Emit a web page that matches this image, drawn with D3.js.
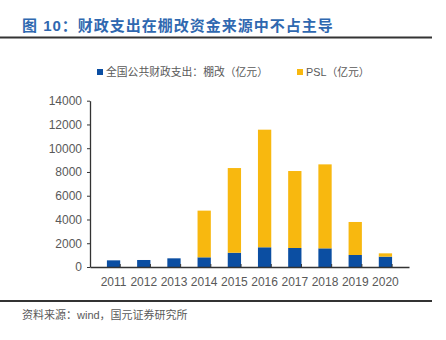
<!DOCTYPE html>
<html lang="zh">
<head>
  <meta charset="utf-8">
  <title>图 10</title>
  <script src="https://d3js.org/d3.v7.min.js"></script>
  <style>
    body { margin: 0; background: #fff; }
    text { font-family: "Liberation Sans", Arial, "Noto Sans CJK SC", sans-serif; }
  </style>
</head>
<body>
<script>
  // values (亿元)
  var years = ["2011","2012","2013","2014","2015","2016","2017","2018","2019","2020"];
  var fiscal = [560, 590, 730, 815, 1200, 1660, 1600, 1570, 1010, 870];
  var psl = [0, 0, 0, 3930, 7130, 9900, 6480, 7070, 2780, 280];
  var yTicks = [0, 2000, 4000, 6000, 8000, 10000, 12000, 14000];

  var w = 446, h = 340;
  var cn = "'Noto Sans CJK SC', sans-serif";

  var svg = d3.select("body").append("svg")
    .attr("width", w)
    .attr("height", h);

  // title + rules
  svg.append("text")
    .attr("x", 22).attr("y", 31)
    .attr("font-family", cn)
    .attr("font-size", 15)
    .attr("font-weight", "bold")
    .attr("fill", "#2f68b0")
    .attr("letter-spacing", 1)
    .text("图 10：财政支出在棚改资金来源中不占主导");

  svg.append("line")
    .attr("x1", 0).attr("x2", 432).attr("y1", 37.5).attr("y2", 37.5)
    .attr("stroke", "#333").attr("stroke-width", 2);
  svg.append("line")
    .attr("x1", 0).attr("x2", 432).attr("y1", 301).attr("y2", 301)
    .attr("stroke", "#333").attr("stroke-width", 2);

  svg.append("text")
    .attr("x", 22).attr("y", 319)
    .attr("font-family", cn)
    .attr("font-size", 11)
    .attr("fill", "#595959")
    .text("资料来源：wind，国元证券研究所");

  // legend
  var legend = [
    { label: "全国公共财政支出：棚改（亿元）", color: "#0b4ea2", x: 97 },
    { label: "PSL（亿元）", color: "#f8b80f", x: 297 }
  ];
  var lg = svg.selectAll("g.legend").data(legend).enter().append("g")
    .attr("class", "legend")
    .attr("transform", function(d) { return "translate(" + d.x + ",67)"; });
  lg.append("rect").attr("width", 6).attr("height", 6).attr("y", 2)
    .attr("fill", function(d) { return d.color; });
  lg.append("text").attr("x", 9).attr("y", 8.5)
    .attr("font-family", cn)
    .attr("font-size", 10.8)
    .attr("fill", "#595959")
    .text(function(d) { return d.label; });

  // chart area
  var plotLeft = 90, plotRight = 409, plotTop = 100.7, plotBottom = 267;

  var x = d3.scaleBand().domain(years).range([plotLeft, plotRight]).padding(0.56);
  var y = d3.scaleLinear().domain([0, 14000]).range([plotBottom, plotTop]);

  var rows = years.map(function(yr, i) {
    return { year: yr, fiscal: fiscal[i], psl: psl[i] };
  });
  var stacked = d3.stack().keys(["fiscal", "psl"])(rows);
  var colors = { fiscal: "#0b4ea2", psl: "#f8b80f" };

  svg.selectAll("g.series").data(stacked).enter().append("g")
    .attr("class", "series")
    .attr("fill", function(s) { return colors[s.key]; })
    .selectAll("rect")
    .data(function(s) { return s; })
    .enter().append("rect")
    .attr("x", function(d) { return x(d.data.year); })
    .attr("width", x.bandwidth())
    .attr("y", function(d) { return y(d[1]); })
    .attr("height", function(d) { return y(d[0]) - y(d[1]); });

  // y axis
  var yAxis = svg.append("g")
    .attr("transform", "translate(" + plotLeft + ",0)")
    .call(d3.axisLeft(y).tickValues(yTicks).tickSize(3).tickSizeOuter(0).tickFormat(d3.format("d")));
  yAxis.select(".domain").attr("stroke", "#333").attr("stroke-width", 1.3);
  yAxis.selectAll(".tick line").attr("stroke", "#333");
  yAxis.selectAll("text").attr("font-size", 12).attr("fill", "#595959")
    .attr("font-family", "'Liberation Sans', Arial, sans-serif").attr("x", -8);

  // x axis, ticks between categories pointing up
  var xAxis = svg.append("g")
    .attr("transform", "translate(0," + plotBottom + ")")
    .call(d3.axisBottom(x).tickSize(0).tickSizeOuter(0));
  xAxis.select(".domain").attr("stroke", "#333").attr("stroke-width", 1.3);
  xAxis.selectAll("text").attr("font-size", 12).attr("fill", "#595959")
    .attr("font-family", "'Liberation Sans', Arial, sans-serif").attr("dy", "1.05em").attr("y", 6);

  var step = x.step();
  svg.selectAll("line.xtick").data(years).enter().append("line")
    .attr("class", "xtick")
    .attr("x1", function(d, i) { return plotLeft + step * (i + 1); })
    .attr("x2", function(d, i) { return plotLeft + step * (i + 1); })
    .attr("y1", plotBottom).attr("y2", plotBottom - 3)
    .attr("stroke", "#333");
</script>
</body>
</html>
